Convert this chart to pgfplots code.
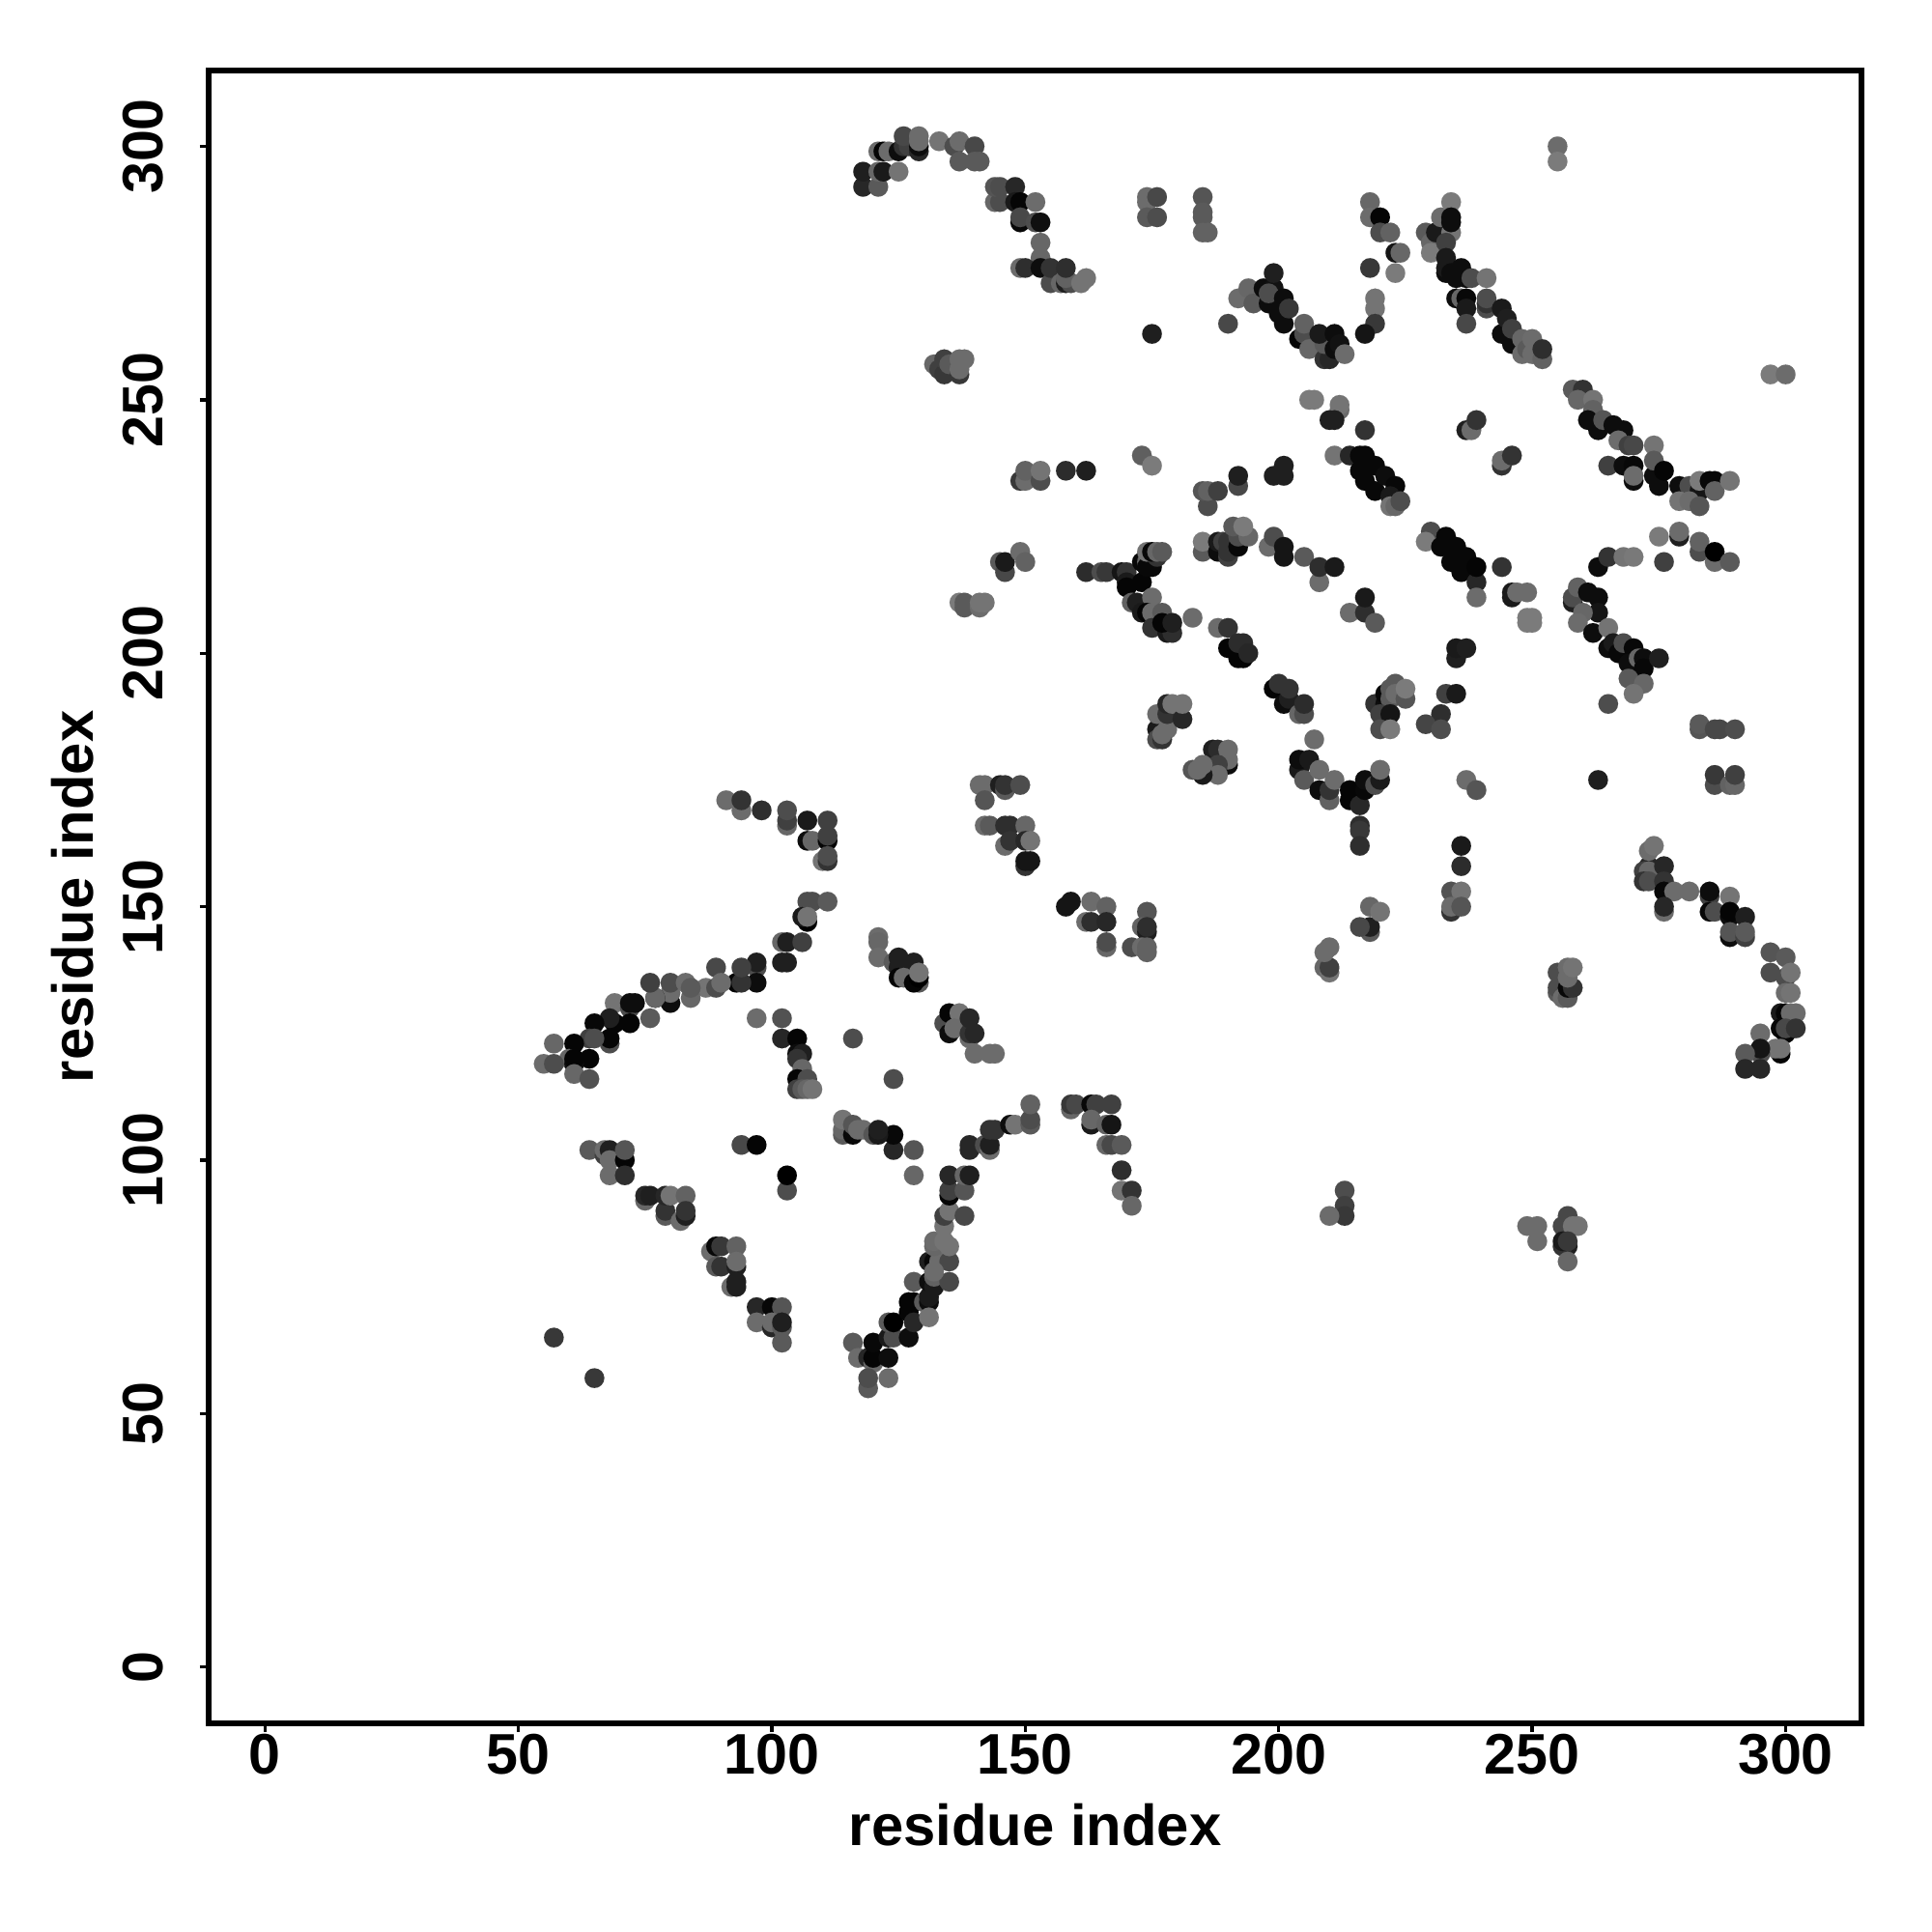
\documentclass[border=0pt]{standalone}
\usepackage{pgfplots}
\usepackage{pgfplotstable}
\usepackage{fontspec}
\setmainfont{Liberation Sans}
\pgfplotsset{compat=1.18}
\pgfplotstableread{
x y g
91 171 .42
94 169 .42
94 171 .2
98 169 .18
103 166 .4
103 167 .25
103 169 .3
107 163 .05
107 167 .1
108 163 .4
111 167 .25
111 163 .02
111 164 .25
110 159 .45
111 159 .2
111 160 .3
107 151 .3
108 151 .3
111 151 .35
107 147 0
106 148 .1
107 148 .45
102 143 .4
103 143 .12
106 143 .25
102 139 .12
103 139 .12
97 138 .3
97 139 .12
97 135 .05
93 135 .02
94 135 .2
94 138 .25
89 138 .28
87 134 .45
89 134 .3
90 135 .42
80 131 .05
80 133 .42
80 135 .3
83 135 .42
84 132 .4
84 134 .35
77 132 .05
77 132 .4
76 135 .25
76 128 .35
69 131 .45
72 130 .3
72 131 .05
73 131 .05
72 127 .02
69 127 .02
68 128 .12
65 127 .03
68 123 .3
68 124 .02
64 124 .25
65 124 .3
61 123 .02
57 123 .4
60 120 .4
64 120 .02
61 119 .05
61 120 .02
61 117 .4
64 116 .32
55 119 .42
57 119 .3
97 128 .42
102 128 .32
102 124 .15
105 124 .02
105 121 .05
106 121 .12
105 120 .2
106 118 .4
105 116 .02
107 116 .3
105 114 .25
106 114 .35
107 114 .4
108 114 .45
116 124 .3
124 116 .3
121 144 .42
121 143 .4
121 140 .42
124 139 .35
125 140 .12
125 138 .12
128 139 .12
125 136 .02
126 136 .42
129 135 .35
128 135 .02
129 136 0
129 137 .45
134 127 .3
135 125 .05
135 129 .02
137 129 .45
136 126 .42
139 124 .42
139 125 .2
140 125 .15
139 128 .15
140 121 .42
143 121 .42
144 121 .42
64 102 .35
67 101 .25
67 102 .42
68 102 .12
68 100 .42
71 100 .02
71 102 .33
68 97 .42
71 97 .18
75 92 .4
75 93 .15
76 93 .12
79 89 .35
79 90 .2
79 93 .15
80 93 .45
83 93 .38
82 88 .42
83 89 .12
83 90 .2
88 82 .42
89 83 .03
90 83 .22
93 83 .38
89 79 .35
90 79 .2
93 79 .12
93 80 .42
92 75 .42
93 75 .12
93 76 .12
97 71 .15
100 71 .03
102 71 .33
97 68 .42
100 67 .15
100 68 .42
102 67 .35
102 68 .12
102 64 .35
57 65 .22
65 57 .22
94 103 .28
97 103 .02
103 94 .3
103 97 0
124 102 .15
124 105 .03
128 102 .33
128 97 .4
114 105 .35
114 106 .4
114 108 .45
116 105 .03
116 107 .33
117 106 .42
118 106 .42
120 105 .33
121 105 .1
121 106 .12
116 64 .35
117 61 .42
119 61 .15
120 60 .4
120 61 .02
120 64 .03
123 61 .05
119 55 .35
119 57 .3
123 57 .42
123 65 .1
124 65 .3
123 68 .35
124 68 0
127 65 .05
127 70 .02
128 68 .15
127 72 .02
128 72 .02
130 72 .35
131 72 .05
131 73 .1
131 69 .45
128 76 .35
131 76 .05
132 75 .1
132 77 .38
135 76 .28
131 80 .12
132 80 .03
133 80 .42
135 80 .28
132 78 .42
132 83 .4
132 84 .42
134 84 .45
135 83 .45
134 87 .45
134 89 .25
135 90 .45
138 89 .28
135 93 .02
135 94 .25
138 94 .33
135 97 .15
138 97 .4
139 97 .12
139 102 .15
139 103 .15
142 103 .3
143 102 .42
143 103 .12
143 106 .2
144 106 .2
147 107 .05
148 107 .45
151 107 .35
151 108 .3
151 111 .38
159 110 .4
159 111 .22
160 111 .28
163 111 .03
164 111 .25
167 111 .25
163 107 .1
163 108 .4
166 107 .38
167 107 .08
166 103 .4
167 103 .28
169 103 .35
169 98 .18
169 94 .45
171 94 .2
171 91 .4
158 150 .08
159 151 .08
163 151 .42
166 150 .38
162 147 .42
163 147 .18
166 147 .15
166 142 .4
166 143 .3
174 149 .33
173 146 .38
174 145 .12
174 146 .18
171 142 .3
173 142 .42
174 141 .38
174 142 .38
209 138 .4
210 137 .45
210 138 .25
209 141 .42
210 142 .42
218 145 .35
218 146 .12
216 146 .28
218 150 .4
220 149 .45
213 94 .3
213 91 .25
213 89 .22
210 89 .42
237 175 .42
239 173 .33
263 175 .12
286 174 .3
286 176 .22
289 174 .38
290 174 .4
290 176 .25
236 162 .1
236 158 .17
234 153 .32
236 153 .45
234 149 .2
234 150 .42
236 150 .33
273 158 .15
272 157 .25
273 157 .4
272 155 .2
273 155 .3
273 161 .42
274 162 .45
276 158 .15
276 155 .2
276 153 .03
278 153 .42
281 153 .42
276 149 .42
276 150 .15
285 152 .25
285 153 .05
285 149 .03
286 149 .3
289 152 .45
289 148 .05
289 149 .02
292 148 .12
289 144 .05
289 145 .33
292 144 .25
292 145 .35
297 141 .33
300 140 .35
297 137 .3
300 136 .3
301 137 .45
300 133 .42
301 133 .45
299 129 .1
300 129 .02
301 129 .42
302 129 .42
299 126 .03
300 125 .02
300 126 .28
302 126 .2
299 121 .02
298 122 .45
299 122 .45
295 125 .42
295 121 .3
295 122 .08
292 121 .35
292 118 .15
295 118 .15
255 133 .35
255 134 .3
255 137 .3
256 132 .42
257 132 .35
257 134 .03
258 134 .2
257 136 .42
257 138 .42
258 138 .45
249 87 .42
251 87 .42
251 84 .42
257 89 .28
256 87 .28
258 87 .45
259 87 .45
257 83 .12
256 83 .2
256 84 .1
257 84 .22
257 80 .4
118 292 .15
118 295 .12
121 292 .35
121 295 .4
122 295 .1
125 295 .45
121 299 .42
122 299 .02
123 299 .42
125 299 .05
126 300 .2
127 300 .25
126 302 .28
129 299 .15
129 300 .05
129 301 .42
129 302 .42
133 301 .45
136 300 .3
137 301 .42
140 300 .28
137 297 .35
140 297 .35
141 297 .35
144 289 .4
145 289 .3
144 292 .33
145 292 .3
148 292 .15
148 289 .1
149 289 .02
152 289 .42
149 285 .03
149 286 .28
152 285 .3
153 285 .06
153 281 .4
153 278 .4
149 276 .42
150 276 .18
153 276 .05
155 273 .3
155 276 .2
157 273 .4
158 273 .12
159 273 .3
158 274 .38
158 276 .18
161 273 .45
162 274 .45
174 289 .42
174 290 .42
176 290 .28
174 286 .35
176 286 .3
185 290 .33
185 287 .35
185 286 .35
185 283 .38
186 283 .38
175 263 .12
132 257 .4
133 256 .25
134 255 .22
134 258 .25
135 257 .35
137 255 .22
137 256 .42
137 258 .42
138 258 .42
173 239 .37
175 237 .48
149 234 .22
150 234 .42
150 236 .38
153 234 .3
153 236 .45
158 236 .17
162 236 .12
145 218 .35
146 216 .28
146 218 .1
149 220 .42
150 218 .38
162 216 .17
165 216 .3
166 216 .22
218 289 .4
218 286 .42
220 286 .02
220 283 .3
222 283 .38
223 279 .08
224 279 .4
218 276 .22
223 275 .48
219 270 .45
219 268 .45
219 265 .22
217 263 .08
190 265 .28
192 270 .42
194 272 .4
195 269 .35
197 272 .05
199 272 .07
198 269 .05
198 271 .3
199 275 .12
200 267 .05
201 265 .05
201 270 .05
202 268 .22
204 262 .02
205 263 .3
205 265 .38
206 260 .4
209 258 .2
210 258 .15
209 261 .35
208 263 .1
211 260 .05
211 263 .05
212 261 .07
213 259 .42
229 283 .35
230 281 .4
230 279 .48
231 283 .1
232 286 .42
234 283 .45
234 289 .48
234 285 .05
234 286 .05
233 281 .25
233 278 .1
233 275 .05
233 276 .1
234 275 .05
235 274 .05
236 276 .05
237 274 .05
238 274 .3
241 274 .45
235 270 .05
236 270 .4
237 270 .03
237 268 .1
237 265 .28
241 268 .3
241 269 .2
241 270 .3
244 263 .05
244 268 .1
245 266 .12
246 261 .05
246 264 .25
248 259 .42
248 262 .4
249 260 .35
250 259 .42
250 262 .42
252 258 .38
252 260 .18
206 250 .48
207 250 .48
212 248 .42
212 249 .45
210 246 .12
211 246 .12
217 244 .2
211 239 .45
214 239 .15
216 239 .03
217 239 .03
216 236 .03
217 234 .03
219 237 .03
219 232 .03
221 235 .05
223 233 .03
222 231 .1
222 229 .45
223 229 .4
224 230 .3
237 244 .12
238 244 .42
239 246 .2
244 237 .2
244 238 .42
246 239 .2
258 252 .35
260 252 .2
259 250 .4
262 250 .45
262 248 .38
261 246 .05
263 244 .05
264 246 .33
266 245 .05
268 244 .05
267 242 .42
269 241 .25
270 241 .28
274 241 .45
265 237 .25
268 237 .05
270 237 .03
270 234 .05
270 235 .42
274 235 .05
274 238 .35
275 233 .05
276 236 .02
279 233 .05
281 233 .3
283 232 .08
279 230 .45
281 230 .42
283 229 .33
283 234 .48
285 234 .03
286 234 .03
286 232 .38
289 234 .45
297 255 .48
300 255 .42
255 300 .42
255 297 .48
275 223 .48
279 223 .12
279 224 .42
283 220 .3
283 222 .38
286 218 .42
286 220 0
276 218 .25
289 218 .35
263 217 .05
265 219 .2
268 219 .45
270 219 .47
258 210 .12
258 211 .3
259 213 .38
261 212 .05
263 211 .05
263 208 .08
260 208 .4
259 206 .42
262 204 .05
265 205 .45
265 201 .05
266 202 .1
267 200 .03
268 202 .3
270 201 .03
269 198 .05
271 199 .4
272 199 .05
272 197 .03
275 199 .12
269 195 .35
272 194 .4
270 192 .45
265 190 .3
235 199 .12
235 201 .1
237 201 .12
233 192 .25
235 192 .1
232 188 .18
229 186 .27
232 185 .3
283 185 .33
283 186 .35
286 185 .28
287 185 .28
290 185 .3
249 206 .48
249 207 .48
250 206 .48
250 207 .48
230 224 .3
229 222 .48
233 223 .03
232 221 .03
235 221 .03
234 218 .03
236 216 .03
237 219 .03
239 214 .15
239 217 .02
239 211 .42
244 217 .2
246 211 .1
246 212 .1
247 212 .42
249 212 .42
137 210 .48
138 209 .35
138 210 .35
141 209 .42
141 210 .45
142 210 .45
169 216 .08
170 216 .2
170 214 .1
170 213 .02
173 214 .02
173 218 .03
171 210 .38
172 210 .12
175 211 .42
174 218 .4
174 217 .03
175 217 .03
176 219 .2
174 220 .45
175 220 .03
176 220 .4
177 220 .35
173 208 .1
174 208 .02
175 208 .42
175 205 .2
177 208 .35
178 204 .1
179 204 .18
177 206 .02
179 206 .12
183 207 .42
188 205 .42
190 205 .2
190 201 .02
192 199 .02
193 199 .02
192 202 .17
193 202 .17
194 200 .15
199 193 .02
200 194 .2
201 190 .05
202 191 .12
202 193 .2
204 188 .4
205 188 .3
205 190 .17
207 183 .42
176 185 .1
178 185 .42
176 183 .3
177 183 .2
177 184 .42
176 188 .42
178 188 .2
178 190 .15
179 190 .45
181 187 .15
181 190 .45
187 181 .12
188 181 .17
190 178 .05
190 179 .42
190 181 .42
188 178 .25
188 176 .42
185 176 .1
183 177 .33
184 177 .42
185 178 .42
204 177 .1
204 179 .05
205 175 .35
206 179 .1
208 173 .05
208 177 .42
210 171 .38
210 173 .2
211 175 .42
214 171 .02
214 173 .02
216 170 .15
217 173 .03
217 175 .05
219 174 .3
220 175 .1
220 177 .42
216 166 .18
216 165 .22
216 162 .18
219 190 .2
221 190 .05
221 192 .03
222 193 .35
223 194 .35
222 191 .35
223 192 .42
220 188 .25
222 188 .08
220 185 .3
222 185 .48
225 191 .33
225 193 .48
186 229 .3
185 232 .33
186 232 .38
188 232 .25
192 233 .28
192 235 .12
199 235 .12
201 235 .12
201 237 .12
185 220 .35
185 222 .48
188 220 .05
188 222 .1
189 222 .25
190 219 .25
190 220 .2
190 222 .2
192 221 .03
192 223 .3
191 225 .35
194 223 .4
193 225 .48
198 221 .42
199 223 .3
201 219 .08
201 221 .08
205 219 .35
208 214 .42
208 217 .18
211 217 .1
214 208 .42
217 208 .18
217 211 .1
219 206 .35
141 174 .42
142 174 .42
142 171 .33
145 174 .12
146 173 .35
146 174 .2
149 174 .3
142 166 .42
143 166 .35
146 166 .18
147 166 .18
150 166 .4
146 162 .42
147 163 .2
150 163 .15
151 163 .45
150 158 .2
150 159 .08
151 159 .08
}\pts
\begin{document}
\begin{tikzpicture}
\path[use as bounding box] (-54pt,-54pt) rectangle (446pt,446pt);
\begin{axis}[
  at={(0pt,0pt)}, anchor=south west,
  scale only axis, width=427.8pt, height=427.8pt,
  xmin=-11.1, xmax=315, ymin=-11.1, ymax=315,
  xtick={0,50,...,300}, ytick={0,50,...,300},
  axis line style={line width=1.5pt},
  tick style={line width=0.85pt, black},
  tick align=outside, tick pos=left,
  major tick length=2.3pt,
  /pgf/number format/assume math mode=true,
  tick label style={font=\fontsize{14.8}{16}\selectfont\bfseries, inner sep=0pt},
  xticklabel style={anchor=north, yshift=-0.4pt},
  yticklabel style={rotate=90, anchor=south, yshift=9.3pt},
  xlabel={residue index}, ylabel={residue index},
  label style={font=\fontsize{14.95}{16}\selectfont\bfseries, inner sep=0pt},
  xlabel style={at={(axis description cs:0.5,0)}, anchor=center, yshift=-26.4pt},
  ylabel style={at={(axis description cs:0,0.5)}, anchor=center, rotate=0, yshift=35.3pt},
  colormap={bw}{gray(0cm)=(0); gray(1cm)=(1)},
  point meta min=0, point meta max=1,
  clip=false,
]
\addplot[scatter, only marks, mark=*, mark size=2.55pt, line width=0.01pt,
  mark options={line width=0.01pt},
  scatter src=explicit, scatter/use mapped color={draw=mapped color, fill=mapped color}]
  table[x=x, y=y, meta=g] {\pts};
\end{axis}
\end{tikzpicture}
\end{document}
